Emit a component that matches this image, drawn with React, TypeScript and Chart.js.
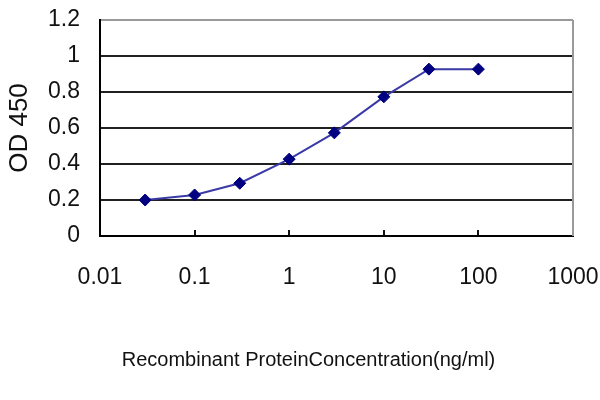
import React, { useEffect, useRef } from "react";
import { Chart, registerables } from "chart.js";

Chart.register(...registerables);

// ---- data ----
const concentrations = [0.03, 0.1, 0.3, 1, 3, 10, 30, 100];
const odValues = [0.2, 0.228, 0.293, 0.427, 0.573, 0.773, 0.927, 0.927];

const xTickValues = [0.01, 0.1, 1, 10, 100, 1000];
const xTickLabels = ["0.01", "0.1", "1", "10", "100", "1000"];
const yTickValues = [0, 0.2, 0.4, 0.6, 0.8, 1, 1.2];
const yTickLabels = ["0", "0.2", "0.4", "0.6", "0.8", "1", "1.2"];

const xTitle = "Recombinant ProteinConcentration(ng/ml)";
const yTitle = "OD 450";

const FONT = 'Arial, "Liberation Sans", sans-serif';

const frame = {
  id: "frameRight",
  afterDatasetsDraw(chart: any) {
    const { ctx, chartArea } = chart;
    ctx.save();
    ctx.strokeStyle = "#9a9a9a";
    ctx.lineWidth = 2;
    ctx.beginPath();
    ctx.moveTo(chartArea.right, chartArea.top);
    ctx.lineTo(chartArea.right, chartArea.bottom);
    ctx.stroke();
    ctx.restore();
  },
};

const zeroPadding = (scale: any) => {
  scale.paddingLeft = 0;
  scale.paddingRight = 0;
  scale.paddingTop = 0;
  scale.paddingBottom = 0;
};

export default function App() {
  const ref = useRef<HTMLCanvasElement | null>(null);

  useEffect(() => {
    if (!ref.current) return;
    const chart = new Chart(ref.current, {
      type: "line",
      data: {
        datasets: [
          {
            data: concentrations.map((c, i) => ({ x: c, y: odValues[i] })),
            borderColor: "#3a3aa6",
            borderWidth: 2,
            pointStyle: "rectRot",
            pointRadius: 6,
            pointBackgroundColor: "#000080",
            pointBorderColor: "#000080",
            pointBorderWidth: 1,
            tension: 0,
            fill: false,
          },
        ],
      },
      plugins: [frame],
      options: {
        animation: false,
        responsive: false,
        devicePixelRatio: 1,
        layout: { padding: { left: 44, right: 27, top: 20, bottom: 0 } },
        plugins: {
          legend: { display: false },
          tooltip: { enabled: false },
          title: {
            display: true,
            position: "bottom",
            text: xTitle,
            color: "#111",
            font: { family: FONT, size: 20, weight: "normal" },
            padding: { top: 0, bottom: 28 },
          },
        },
        scales: {
          x: {
            type: "logarithmic",
            min: 0.01,
            max: 1000,
            afterBuildTicks: (scale: any) => {
              scale.ticks = xTickValues.map((v) => ({ value: v }));
            },
            afterFit: (scale: any) => {
              scale.height = 112;
              zeroPadding(scale);
            },
            ticks: {
              autoSkip: false,
              maxRotation: 0,
              padding: 34,
              color: "#111",
              font: { family: FONT, size: 23 },
              callback: (value: any) => {
                const i = xTickValues.findIndex((v) => Math.abs(v - value) < v * 1e-6);
                return i >= 0 ? xTickLabels[i] : "";
              },
            },
            grid: {
              display: true,
              drawOnChartArea: false,
              drawTicks: true,
              tickLength: -6,
              color: "#111",
              lineWidth: 2,
            },
            border: { display: true, color: "#000", width: 2 },
          },
          y: {
            type: "linear",
            min: 0,
            max: 1.2,
            afterBuildTicks: (scale: any) => {
              scale.ticks = yTickValues.map((v) => ({ value: v }));
            },
            afterFit: (scale: any) => {
              scale.width = 56;
              zeroPadding(scale);
            },
            ticks: {
              padding: 20,
              color: "#111",
              font: { family: FONT, size: 23 },
              callback: (value: any) => {
                const i = yTickValues.findIndex((v) => Math.abs(v - value) < 1e-6);
                return i >= 0 ? yTickLabels[i] : "";
              },
            },
            grid: {
              drawTicks: false,
              color: (ctx: any) => (ctx.tick && Math.abs(ctx.tick.value - 1.2) < 1e-6 ? "#9a9a9a" : "#202020"),
              lineWidth: 2,
            },
            border: { display: true, color: "#000", width: 2 },
            title: {
              display: true,
              text: yTitle,
              color: "#111",
              font: { family: FONT, size: 26, weight: "normal" },
              padding: { top: -40, bottom: 0, left: 0, right: 0 },
            },
          },
        },
      },
    } as any);
    return () => chart.destroy();
  }, []);

  return (
    <div style={{ position: "absolute", left: 0, top: 0, width: 600, height: 400, background: "#fff" }}>
      <canvas ref={ref} width={600} height={400} />
    </div>
  );
}
